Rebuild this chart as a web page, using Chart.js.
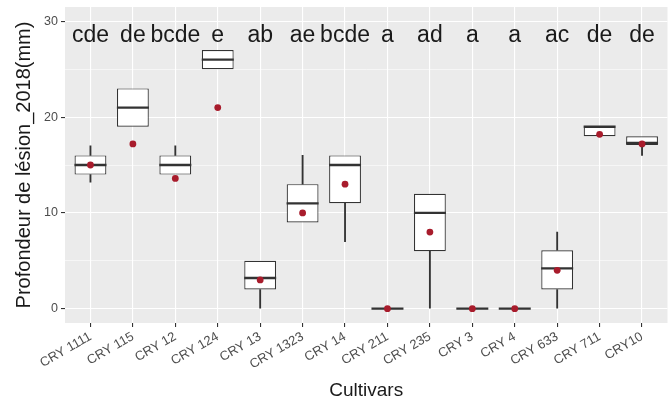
<!DOCTYPE html>
<html>
<head>
<meta charset="utf-8">
<script src="https://cdn.jsdelivr.net/npm/chart.js@4.4.1/dist/chart.umd.min.js"></script>
<style>
  html, body { margin: 0; padding: 0; background: #ffffff; }
  #wrap { width: 672px; height: 405px; }
</style>
</head>
<body>
<div id="wrap"><canvas id="c" width="672" height="405"></canvas></div>
<script>
// Lesion depth (mm) per cultivar, 2018: box-plot summaries and means
const cultivars   = ['CRY 1111','CRY 115','CRY 12','CRY 124','CRY 13','CRY 1323','CRY 14','CRY 211','CRY 235','CRY 3','CRY 4','CRY 633','CRY 711','CRY10'];
const whiskerLow  = [13.2, 19, 14, 25, 0,   9,  7, 0, 0,  0, 0, 0,   18, 16];
const q1          = [14,   19, 14, 25, 2,   9, 11, 0, 6,  0, 0, 2,   18, 17.1];
const median      = [15,   21, 15, 26, 3.2, 11, 15, 0, 10, 0, 0, 4.2, 19, 17.3];
const q3          = [16,   23, 16, 27, 5,  13, 16, 0, 12, 0, 0, 6.1, 19, 18];
const whiskerHigh = [17,   23, 17, 27, 5,  16, 16, 0, 12, 0, 0, 8,   19, 18];
const means       = [15, 17.2, 13.6, 21, 3, 10, 13, 0, 8, 0, 0, 4, 18.2, 17.2];
const groupLetters = ['cde','de','bcde','e','ab','ae','bcde','a','ad','a','a','ac','de','de'];
const yMajorTicks = [0, 10, 20, 30];
const yMinorTicks = [5, 15, 25];

const yTitle = 'Profondeur de lésion_2018(mm)';
const xTitle = 'Cultivars';

const FONT = '"Liberation Sans", Arial, sans-serif';

const idx = cultivars.map((_, i) => i);

// a floating segment, or nothing when it has no length
const span = (i, lo, hi) => ({ x: i, y: hi > lo ? [lo, hi] : null });

// grey panel, significance letters and axis titles
const ggPanel = {
  id: 'ggPanel',
  beforeDraw(chart) {
    const { ctx, chartArea: a } = chart;
    ctx.save();
    ctx.fillStyle = '#ebebeb';
    ctx.fillRect(a.left, a.top, a.right - a.left, a.bottom - a.top);
    ctx.restore();
  },
  afterDraw(chart) {
    const { ctx, chartArea: a, scales: { x, y } } = chart;
    ctx.save();
    ctx.fillStyle = '#1a1a1a';
    ctx.font = '23px ' + FONT;
    ctx.textAlign = 'center';
    ctx.textBaseline = 'alphabetic';
    groupLetters.forEach((t, i) => {
      ctx.fillText(t, x.getPixelForValue(i), y.getPixelForValue(27.8));
    });
    ctx.font = '19px ' + FONT;
    ctx.textBaseline = 'middle';
    ctx.fillText(xTitle, (a.left + a.right) / 2, 391);
    ctx.font = '20px ' + FONT;
    ctx.translate(24, (a.top + a.bottom) / 2);
    ctx.rotate(-Math.PI / 2);
    ctx.fillText(yTitle, 0, 0);
    ctx.restore();
  }
};

const whiskerStyle = {
  type: 'bar',
  backgroundColor: '#333333',
  borderWidth: 0,
  barThickness: 1.2,
  grouped: false,
  order: 4
};

new Chart(document.getElementById('c'), {
  type: 'bar',
  data: {
    datasets: [
      Object.assign({
        label: 'lower whisker',
        data: idx.map(i => span(i, whiskerLow[i], q1[i]))
      }, whiskerStyle),
      Object.assign({
        label: 'upper whisker',
        data: idx.map(i => span(i, q3[i], whiskerHigh[i]))
      }, whiskerStyle),
      {
        label: 'boxes',
        type: 'bar',
        data: idx.map(i => span(i, q1[i], q3[i])),
        backgroundColor: '#ffffff',
        borderColor: '#333333',
        borderWidth: 1.2,
        borderSkipped: false,
        barPercentage: 0.75,
        categoryPercentage: 1,
        grouped: false,
        order: 3
      },
      {
        label: 'median',
        type: 'scatter',
        data: idx.map(i => ({ x: i, y: median[i] })),
        pointStyle: 'line',
        pointRadius: 16,
        borderColor: '#333333',
        borderWidth: 2.3,
        order: 2
      },
      {
        label: 'mean',
        type: 'scatter',
        data: idx.map(i => ({ x: i, y: means[i] })),
        pointStyle: 'circle',
        pointRadius: 3.4,
        backgroundColor: '#a81c2c',
        borderWidth: 0,
        order: 1
      }
    ]
  },
  options: {
    responsive: false,
    animation: false,
    events: [],
    layout: { autoPadding: false, padding: { left: 0, right: 4.5, top: 7, bottom: 0 } },
    plugins: { legend: { display: false }, tooltip: { enabled: false } },
    scales: {
      x: {
        type: 'linear',
        min: -0.6,
        max: cultivars.length - 1 + 0.6,
        offset: false,
        afterBuildTicks(s) { s.ticks = idx.map(v => ({ value: v })); },
        afterFit(s) { s.height = 82; s.paddingLeft = 0; s.paddingRight = 0; },
        ticks: {
          autoSkip: false,
          minRotation: 30,
          maxRotation: 30,
          padding: 2,
          color: '#4d4d4d',
          font: { family: FONT, size: 13 },
          callback: v => cultivars[v]
        },
        grid: {
          offset: false,
          color: '#ffffff',
          lineWidth: 1.1,
          tickColor: '#333333',
          tickLength: 4
        },
        border: { display: false }
      },
      y: {
        type: 'linear',
        min: -1.5,
        max: 31.5,
        afterBuildTicks(s) {
          s.ticks = yMajorTicks.concat(yMinorTicks).sort((a, b) => a - b).map(v => ({ value: v }));
        },
        afterFit(s) { s.width = 65; s.paddingTop = 0; s.paddingBottom = 0; },
        ticks: {
          padding: 3,
          color: '#4d4d4d',
          font: { family: FONT, size: 12.5 },
          callback: v => (yMajorTicks.includes(v) ? String(v) : '')
        },
        grid: {
          color: '#ffffff',
          lineWidth: c => (yMajorTicks.includes(c.tick.value) ? 1.1 : 0.55),
          tickColor: c => (yMajorTicks.includes(c.tick.value) ? '#333333' : 'rgba(0,0,0,0)'),
          tickLength: 4
        },
        border: { display: false }
      }
    }
  },
  plugins: [ggPanel]
});
</script>
</body>
</html>
